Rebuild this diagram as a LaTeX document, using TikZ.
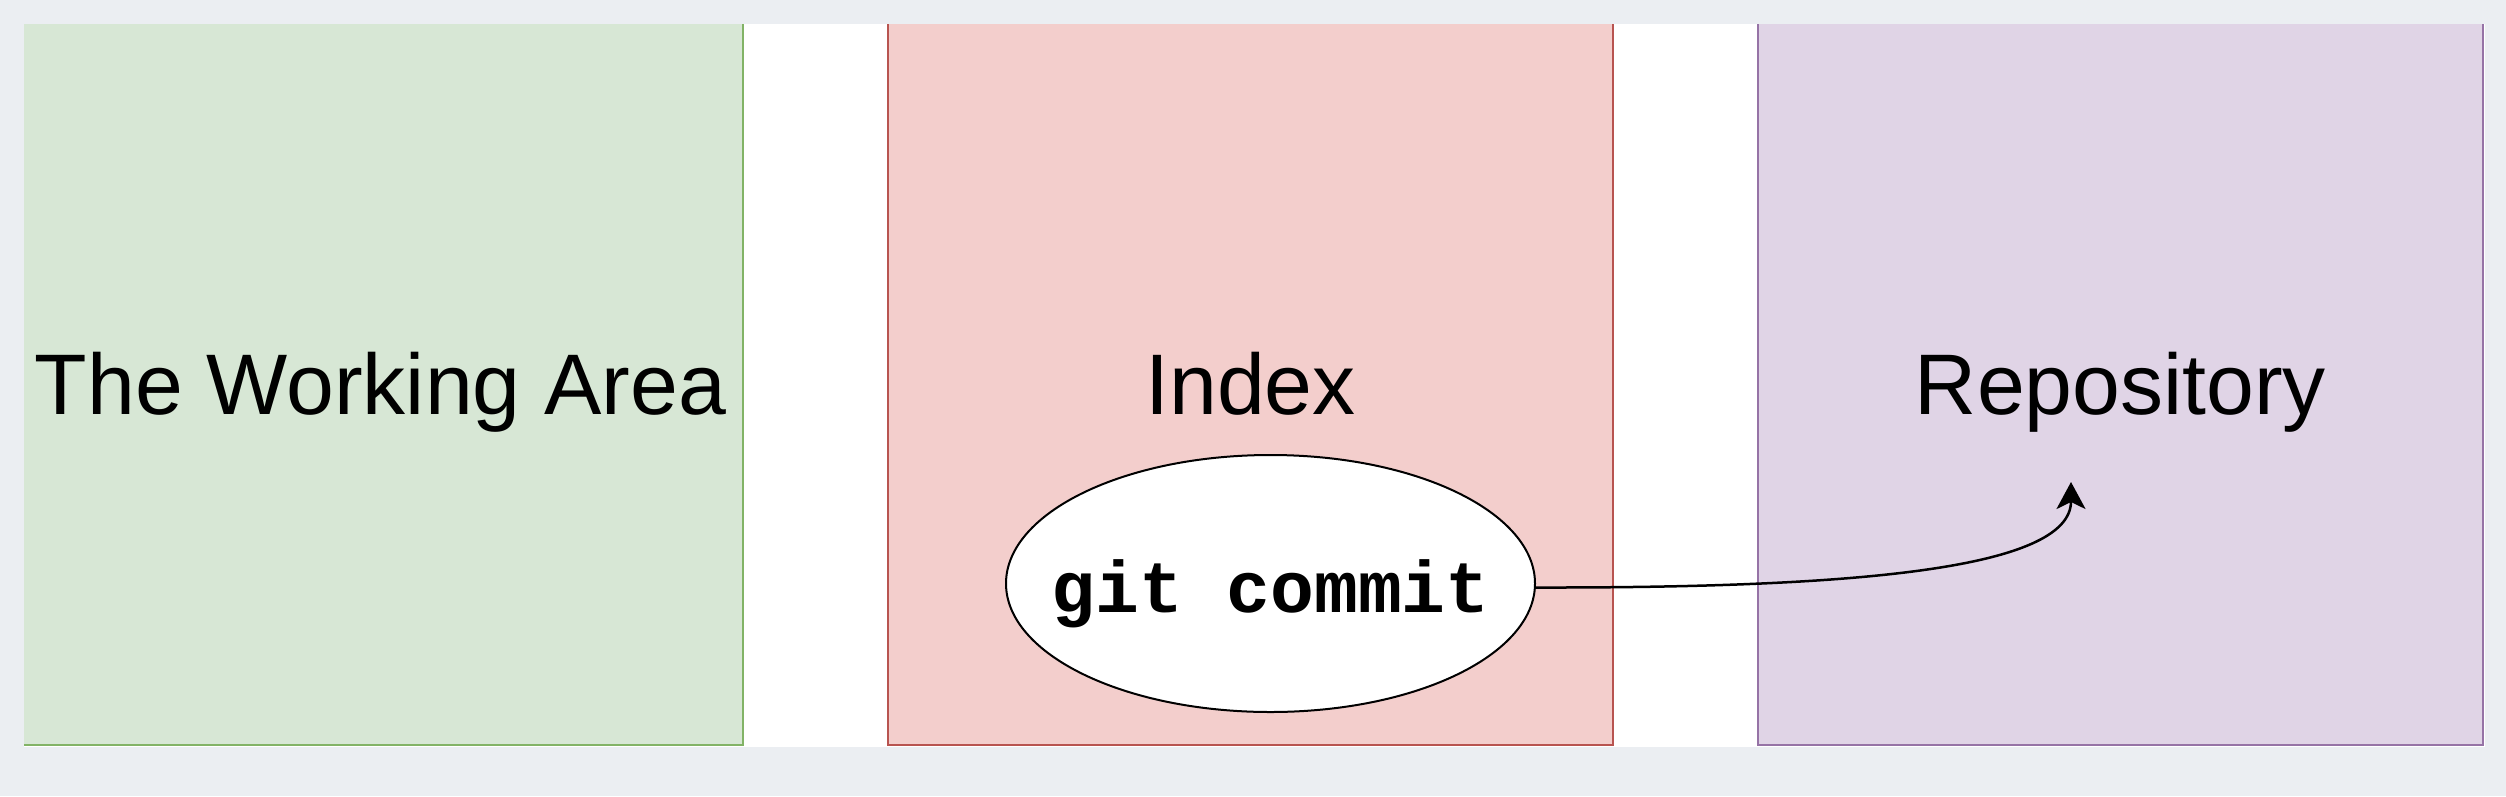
\documentclass[tikz,border=0pt]{standalone}
\usepackage{fontspec}
\setmainfont{Liberation Sans}
\setmonofont{Liberation Mono}
\usetikzlibrary{shapes.geometric,arrows.meta}
\definecolor{bggray}{HTML}{EBEEF2}
\definecolor{greenfill}{HTML}{D7E7D5}
\definecolor{greenline}{HTML}{82B366}
\definecolor{redfill}{HTML}{F3CECC}
\definecolor{redline}{HTML}{B85450}
\definecolor{purplefill}{HTML}{E0D4E6}
\definecolor{purpleline}{HTML}{9673A6}
\begin{document}
\begin{tikzpicture}[x=1pt,y=-1pt,
  area/.style={rectangle, draw, line width=2.5pt, minimum width=725pt,
    minimum height=725pt, inner sep=0pt, outer sep=0pt,
    font=\fontsize{86}{100}\selectfont, text height=80pt, text depth=17pt},
  cmd/.style={ellipse, draw=black, fill=white, line width=2pt,
    minimum width=529pt, minimum height=257pt, inner sep=0pt,
    font=\fontsize{73}{80}\selectfont\ttfamily\bfseries,
    text height=70pt, text depth=13pt},
  flow/.style={line width=2.5pt, draw=black,
    -{Stealth[length=27pt,width=29pt,inset=7pt]}}]
\useasboundingbox (0,0) rectangle (2506,796);
\fill[bggray] (0,0) rectangle (2506,796);
\fill[white] (24,24) rectangle (2485,747);
\begin{scope}
\clip (24,24) rectangle (2485,747);
\node[area, fill=greenfill, draw=greenline] (work) at (380.5,382.5) {The Working Area};
\node[area, fill=redfill, draw=redline] (index) at (1250.5,382.5) {Index};
\node[area, fill=purplefill, draw=purpleline] (repo) at (2120.5,382.5) {Repository};
\end{scope}
\node[cmd] (commit) at (1270.5,583.5) {\makebox[0pt]{git commit}};
\coordinate (target) at (2071,482);
\draw[flow] ([yshift=-4pt]commit.east) .. controls (1850,588) and (2071,570) .. (target);
\end{tikzpicture}
\end{document}
